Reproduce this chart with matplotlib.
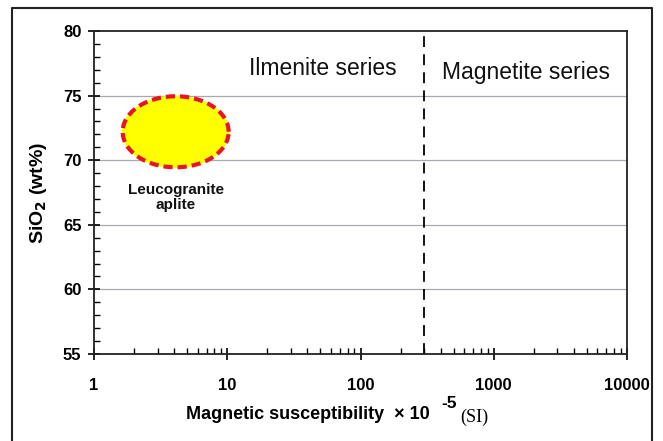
import numpy as np
import matplotlib
matplotlib.use("Agg")
import matplotlib.pyplot as plt
from matplotlib.lines import Line2D

plt.rcParams["font.family"] = ["Liberation Sans", "DejaVu Sans"]

# axis ranges and ticks
x_ticks = [1, 10, 100, 1000, 10000]
x_tick_labels = ["1", "10", "100", "1000", "10000"]
y_ticks = [55, 60, 65, 70, 75, 80]

# boundary between ilmenite and magnetite series (x 10^-5 SI)
boundary = 300

# leucogranite aplite field: centre and extent
field_x = [1.65, 4.1, 10.3]   # min, centre, max
field_y = [69.5, 72.2, 75.0]  # min, centre, max

fig = plt.figure(figsize=(6.63, 4.41), dpi=100)
ax = fig.add_axes([94 / 663, 87 / 441, 533 / 663, 323 / 441])

ax.set_xscale("log")
ax.set_xlim(1, 10000)
ax.set_ylim(55, 80)
ax.set_xticks(x_ticks)
ax.set_xticklabels(x_tick_labels)
ax.set_yticks(y_ticks)
ax.set_yticks(np.arange(55, 81, 1), minor=True)
ax.tick_params(which="major", direction="inout", length=8, width=1.2,
               labelsize=12, pad=13)
ax.tick_params(which="minor", direction="in", length=4, width=1.0)
ax.tick_params(axis="y", pad=5)
for lab in ax.get_xticklabels() + ax.get_yticklabels():
    lab.set_fontweight("bold")
for sp in ax.spines.values():
    sp.set_linewidth(1.3)
    sp.set_color("#222222")

# horizontal grid at the major y values
for yv in y_ticks[1:-1]:
    ax.axhline(yv, color="#a8a8b0", lw=0.9, zorder=0)

ax.axvline(boundary, color="black", lw=1.3, ls=(0, (6, 4)), zorder=2)

# ellipse drawn in log-x space so it looks round on the log axis
t = np.linspace(0, 2 * np.pi, 200)
lx0 = np.log10(field_x[1])
ax_r = (np.log10(field_x[2]) - np.log10(field_x[0])) / 2
ay_r = (field_y[2] - field_y[0]) / 2
ex = 10 ** (lx0 + ax_r * np.cos(t))
ey = field_y[1] + ay_r * np.sin(t)
ax.fill(ex, ey, color="#ffff00", zorder=3)
ax.plot(ex, ey, color="#e8141e", lw=3, ls=(0, (2.2, 1.2)), zorder=4)

ax.text(field_x[1], 67.1, "Leucogranite\naplite", ha="center", va="center",
        fontsize=11, fontweight="bold", linespacing=1.15, color="#111111")

ax.text(52, 77.1, "Ilmenite series", ha="center", va="center",
        fontsize=16.5, color="#111111")
ax.text(1750, 76.8, "Magnetite series", ha="center", va="center",
        fontsize=16.5, color="#111111",
        bbox=dict(facecolor="white", edgecolor="none", pad=1))

ax.set_ylabel("SiO$_\\mathbf{2}$ (wt%)", fontsize=14, fontweight="bold", labelpad=10)

# x label built from pieces: bold text, superscript, serif unit
fig.text(186 / 663, 1 - 419 / 441, "Magnetic susceptibility  \u00d7 10",
         fontsize=13, fontweight="bold", ha="left", va="baseline")
fig.text(441 / 663, 1 - 408 / 441, "-5", fontsize=12.5, fontweight="bold",
         ha="left", va="baseline")
fig.text(460 / 663, 1 - 422 / 441, "(SI)", fontsize=13,
         family=["Liberation Serif", "DejaVu Serif"], ha="left", va="baseline")

# outer frame around the figure
frame_x = [12 / 663, 12 / 663, 652 / 663, 652 / 663]
frame_y = [0, 1 - 8 / 441, 1 - 8 / 441, 0]
fig.add_artist(Line2D(frame_x, frame_y, color="#222222", lw=1.5,
                      transform=fig.transFigure))

fig.savefig("out.png", dpi=100)
